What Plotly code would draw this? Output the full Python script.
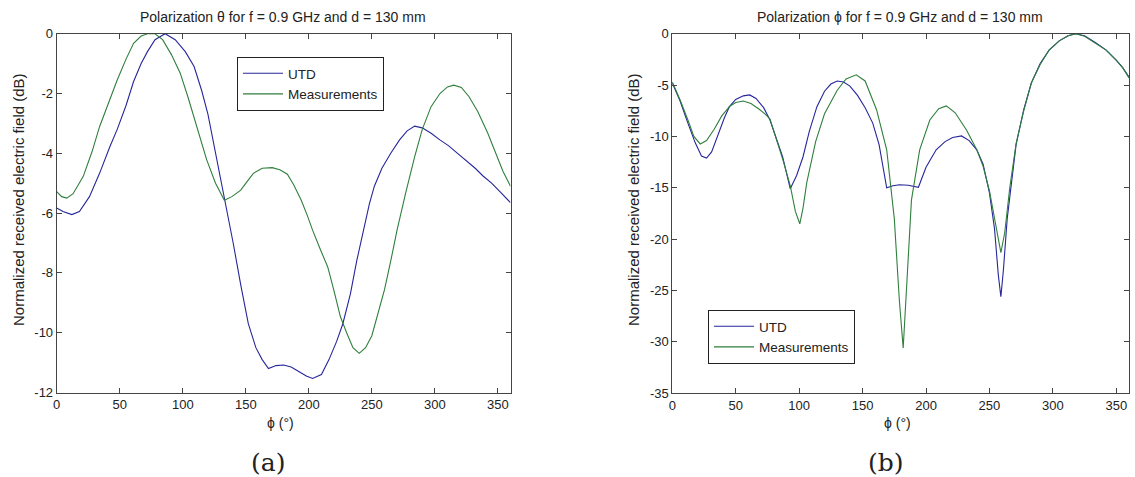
import plotly.graph_objects as go

# ---- Panel (a): Polarization theta ----
a_utd_phi = [0, 5, 12, 18, 26, 34, 42, 48, 55, 61, 67, 72, 78, 86, 94, 102, 109, 115, 120, 127,
             135, 140, 146, 152, 158, 163, 168, 174, 180, 186, 192, 198, 203, 210, 216, 222, 227,
             233, 238, 243, 248, 252, 258, 265, 272, 278, 284, 290, 297, 304, 311, 318, 325, 332,
             338, 345, 352, 360]
a_utd_val = [-5.83, -5.95, -6.05, -5.95, -5.45, -4.67, -3.8, -3.2, -2.4, -1.6, -1.0, -0.6, -0.2, 0.0,
             -0.2, -0.6, -1.1, -1.9, -2.7, -4.2, -5.8, -7.0, -8.4, -9.7, -10.5, -10.9, -11.2, -11.1,
             -11.08, -11.15, -11.3, -11.45, -11.53, -11.4, -10.9, -10.3, -9.7, -8.7, -7.6, -6.6,
             -5.7, -5.1, -4.5, -4.0, -3.55, -3.25, -3.09, -3.15, -3.33, -3.55, -3.75, -4.0, -4.25,
             -4.5, -4.75, -5.0, -5.3, -5.65]

a_meas_phi = [0, 4, 8, 13, 21, 28, 34, 41, 48, 55, 61, 67, 72, 78, 84, 91, 98, 104, 109, 114, 119,
              126, 133, 139, 146, 151, 156, 163, 171, 177, 183, 188, 194, 199, 203, 209, 215, 220,
              225, 230, 235, 240, 245, 250, 256, 260, 265, 270, 277, 284, 290, 297, 304, 310, 315,
              321, 327, 334, 342, 348, 354, 360]
a_meas_val = [-5.28, -5.45, -5.5, -5.35, -4.78, -3.95, -3.11, -2.3, -1.55, -0.85, -0.32, -0.08, 0.0,
              0.0, -0.2, -0.7, -1.32, -2.1, -2.78, -3.5, -4.22, -5.0, -5.57, -5.45, -5.23, -4.95,
              -4.67, -4.5, -4.48, -4.55, -4.7, -5.05, -5.57, -6.1, -6.57, -7.2, -7.8, -8.6, -9.46,
              -10.0, -10.5, -10.69, -10.5, -10.1, -9.2, -8.57, -7.6, -6.57, -5.3, -4.11, -3.2,
              -2.44, -2.0, -1.78, -1.72, -1.8, -2.1, -2.6, -3.33, -4.0, -4.6, -5.1]

# ---- Panel (b): Polarization phi ----
b_utd_phi = [0, 6, 12, 18, 23, 27, 31, 36, 41, 45, 50, 56, 61, 66, 72, 77, 82, 87, 93, 98, 103, 108,
             114, 120, 125, 130, 135, 140, 146, 152, 158, 163, 169, 174, 179, 186, 194, 200, 208,
             215, 221, 228, 234, 240, 245, 250, 254, 257, 259, 261, 264, 268, 271, 277, 283, 290,
             297, 305, 312, 318, 325, 334, 342, 350, 355, 360]
b_utd_val = [-4.8, -6.5, -8.6, -10.6, -11.9, -12.1, -11.5, -9.8, -8.2, -7.1, -6.4, -6.05, -5.96, -6.3,
             -7.2, -8.4, -10.1, -12.0, -15.1, -13.8, -12.0, -9.5, -7.1, -5.6, -4.9, -4.6, -4.7, -5.1,
             -6.0, -7.2, -8.7, -10.8, -15.0, -14.8, -14.7, -14.75, -14.95, -13.0, -11.3, -10.5,
             -10.1, -9.95, -10.4, -11.3, -12.7, -15.5, -19.0, -23.5, -25.6, -23.0, -18.0, -13.5,
             -10.8, -7.4, -4.8, -2.9, -1.6, -0.7, -0.2, 0.0, -0.2, -0.9, -1.6, -2.6, -3.3, -4.2]

b_meas_phi = [0, 6, 12, 17, 22, 27, 33, 39, 45, 50, 56, 62, 68, 73, 77, 82, 87, 93, 97, 100.5, 103,
              106, 113, 120, 130, 137, 145, 152, 161, 169, 175, 179, 182, 185, 188.5, 195, 203, 210,
              216, 223, 232, 240, 245, 250, 255, 259, 262, 266, 271, 277, 283, 290, 297, 305, 312,
              318, 325, 334, 342, 350, 355, 360]
b_meas_val = [-4.7, -6.4, -8.3, -10.0, -10.73, -10.4, -9.3, -8.0, -7.1, -6.7, -6.55, -6.8, -7.3, -7.8,
              -8.3, -10.2, -12.2, -14.8, -17.3, -18.5, -17.0, -14.5, -10.5, -7.8, -5.5, -4.4, -4.0,
              -4.6, -7.4, -11.3, -18.0, -26.0, -30.6, -24.0, -16.2, -11.3, -8.4, -7.3, -7.03, -7.7,
              -9.4, -11.3, -12.9, -15.3, -18.5, -21.3, -19.4, -15.0, -10.7, -7.5, -4.8, -3.0, -1.6,
              -0.7, -0.2, 0.0, -0.25, -0.93, -1.6, -2.56, -3.3, -4.3]

x_ticks = [0, 50, 100, 150, 200, 250, 300, 350]
a_y_ticks = [0, -2, -4, -6, -8, -10, -12]
b_y_ticks = [0, -5, -10, -15, -20, -25, -30, -35]

BLUE = "#26269c"
GREEN = "#2f7f3c"
FONT = "Liberation Sans, Arial, sans-serif"

fig = go.Figure()
fig.add_trace(go.Scatter(x=a_utd_phi, y=a_utd_val, mode="lines", name="UTD",
                         line=dict(color=BLUE, width=1.1), xaxis="x", yaxis="y", legend="legend"))
fig.add_trace(go.Scatter(x=a_meas_phi, y=a_meas_val, mode="lines", name="Measurements",
                         line=dict(color=GREEN, width=1.1), xaxis="x", yaxis="y", legend="legend"))
fig.add_trace(go.Scatter(x=b_utd_phi, y=b_utd_val, mode="lines", name="UTD",
                         line=dict(color=BLUE, width=1.1), xaxis="x2", yaxis="y2", legend="legend2"))
fig.add_trace(go.Scatter(x=b_meas_phi, y=b_meas_val, mode="lines", name="Measurements",
                         line=dict(color=GREEN, width=1.1), xaxis="x2", yaxis="y2", legend="legend2"))

W, H = 1135, 477
axcommon = dict(showgrid=False, zeroline=False, showline=True, linecolor="#444444", linewidth=1,
                mirror="ticks", ticks="inside", ticklen=5, tickcolor="#444444", automargin=False,
                tickfont=dict(family=FONT, size=13, color="#222222"))

def hy(v):
    return [str(t) for t in v]

fig.update_layout(
    width=W, height=H, margin=dict(l=0, r=0, t=0, b=0, autoexpand=False),
    plot_bgcolor="white", paper_bgcolor="white",
    xaxis=dict(domain=[56.7 / W, 510.5 / W], range=[0, 360], tickvals=x_ticks, ticktext=hy(x_ticks),
               anchor="y", **axcommon),
    yaxis=dict(domain=[1 - 392.5 / H, 1 - 33.7 / H], range=[-12, 0], tickvals=a_y_ticks,
               ticktext=hy(a_y_ticks), anchor="x", **axcommon),
    xaxis2=dict(domain=[672.3 / W, 1129 / W], range=[0, 360], tickvals=x_ticks, ticktext=hy(x_ticks),
                anchor="y2", **axcommon),
    yaxis2=dict(domain=[1 - 393.3 / H, 1 - 33.7 / H], range=[-35, 0], tickvals=b_y_ticks,
                ticktext=hy(b_y_ticks), anchor="x2", **axcommon),
    legend=dict(x=237 / W, y=1 - 57 / H, xanchor="left", yanchor="top",
                bordercolor="#222222", borderwidth=1, bgcolor="white",
                font=dict(family=FONT, size=13.5, color="#222222"), tracegroupgap=0,
                itemwidth=40),
    legend2=dict(x=708 / W, y=1 - 310 / H, xanchor="left", yanchor="top",
                 bordercolor="#222222", borderwidth=1, bgcolor="white",
                 font=dict(family=FONT, size=13.5, color="#222222"), tracegroupgap=0,
                 itemwidth=40),
    showlegend=True,
)

ann = []
def txt(x, y, s, size=11, angle=0, family=FONT):
    ann.append(dict(x=x / W, y=1 - y / H, xref="paper", yref="paper", text=s, showarrow=False,
                    xanchor="center", yanchor="middle", textangle=angle,
                    font=dict(family=family, size=size, color="#222222")))

txt(283, 17, "Polarization θ for f = 0.9 GHz and d = 130 mm", 14)
txt(900, 17, "Polarization ϕ for f = 0.9 GHz and d = 130 mm", 14)
txt(18, 200, "Normalized received electric field (dB)", 15, -90)
txt(633, 200, "Normalized received electric field (dB)", 15, -90)
txt(280, 423, "ϕ (°)", 14)
txt(897, 423, "ϕ (°)", 14)
txt(268, 462, "(a)", 25, family="DejaVu Serif, serif")
txt(886, 462, "(b)", 25, family="DejaVu Serif, serif")
fig.update_layout(annotations=ann)

fig.write_html("out.html", config={"displayModeBar": False},
               post_script="document.body.style.margin='0';document.body.style.overflow='hidden';")
